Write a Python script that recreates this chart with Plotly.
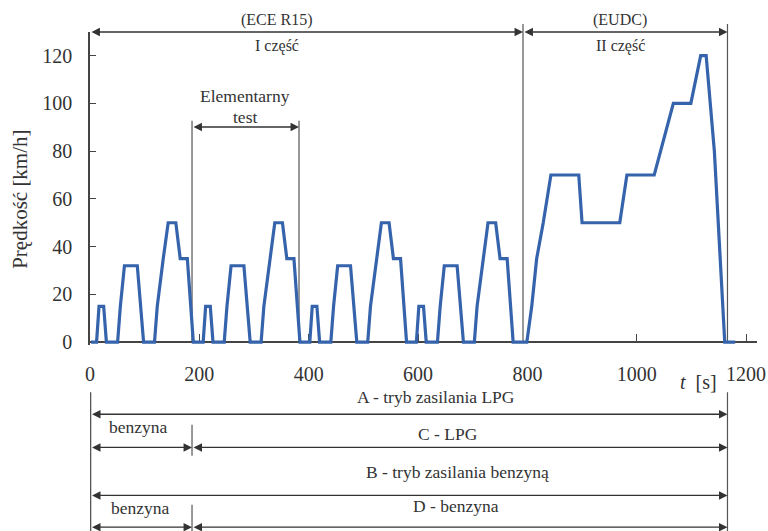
import plotly.graph_objects as go

# ---------------- data ----------------
time_s = [
    2, 12, 16.5, 25, 30, 50.5, 55.5, 63, 86.5, 98, 118, 123, 134, 143, 157, 165, 178, 189,
    207, 211.5, 220, 225, 245.5, 250.5, 258, 281.5, 293, 313, 318, 329, 338, 352, 360, 373, 384,
    402, 406.5, 415, 420, 440.5, 445.5, 453, 476.5, 488, 508, 513, 524, 533, 547, 555, 568, 579,
    597, 601.5, 610, 615, 635.5, 640.5, 648, 671.5, 683, 703, 708, 719, 728, 742, 750, 763, 774,
    799, 808, 817, 829, 843, 894, 900, 969, 982, 1032, 1067, 1099, 1117, 1127, 1142, 1161, 1180,
]
speed_kmh = [
    0, 0, 15, 15, 0, 0, 15, 32, 32, 0, 0, 15, 35, 50, 50, 35, 35, 0,
    0, 15, 15, 0, 0, 15, 32, 32, 0, 0, 15, 35, 50, 50, 35, 35, 0,
    0, 15, 15, 0, 0, 15, 32, 32, 0, 0, 15, 35, 50, 50, 35, 35, 0,
    0, 15, 15, 0, 0, 15, 32, 32, 0, 0, 15, 35, 50, 50, 35, 35, 0,
    0, 15, 35, 50, 70, 70, 50, 50, 70, 70, 100, 100, 120, 120, 80, 0, 0,
]
x_tick_values = [0, 200, 400, 600, 800, 1000, 1200]
y_tick_values = [0, 20, 40, 60, 80, 100, 120]

# boundaries (s) of the test phases as drawn
t_start = 1
t_elem_start = 186.6
t_elem_end = 382.3
t_eudc_start = 792
t_end = 1166

FONT = "Liberation Serif"
TXT = "#333333"
LINE = "#444444"

X_LO, X_HI = 0, 1220
Y_LO, Y_HI = -1.2, 129.9
PX_PER_S = 667 / (X_HI - X_LO)


def yp(v):
    """speed units -> paper fraction (works outside the axis range)"""
    return (v - Y_LO) / (Y_HI - Y_LO)


fig = go.Figure()
fig.add_trace(go.Scatter(
    x=time_s, y=speed_kmh, mode="lines",
    line=dict(color="#3563AC", width=3.2),
    hoverinfo="skip", showlegend=False,
))

fig.update_layout(
    width=768, height=531,
    margin=dict(l=90, r=11, t=32, b=185.8, autoexpand=False),
    paper_bgcolor="white", plot_bgcolor="white",
    font=dict(family=FONT, color=TXT, size=20),
    showlegend=False,
    xaxis=dict(
        range=[X_LO, X_HI], tickvals=x_tick_values, ticktext=[str(v) for v in x_tick_values],
        showgrid=False, zeroline=False, showline=True, linecolor=LINE, linewidth=1.5,
        ticks="inside", ticklen=7, tickwidth=1.3, tickcolor=LINE,
        anchor="free", position=yp(0), automargin=False,
        ticklabelstandoff=14, layer="below traces",
        tickfont=dict(family=FONT, size=20, color=TXT),
    ),
    yaxis=dict(
        range=[Y_LO, Y_HI], tickvals=y_tick_values, ticktext=[str(v) for v in y_tick_values],
        showgrid=False, zeroline=False, showline=True, linecolor=LINE, linewidth=1.5,
        ticks="inside", ticklen=6, tickwidth=1.3, tickcolor=LINE, automargin=False,
        ticklabelstandoff=12, layer="below traces",
        tickfont=dict(family=FONT, size=20, color=TXT),
    ),
)

shapes = []
def vline(x, v0, v1, w=1.2):
    shapes.append(dict(type="line", xref="x", yref="paper", x0=x, x1=x, y0=yp(v0), y1=yp(v1),
                       line=dict(color="#555555", width=w), layer="below"))

vline(t_eudc_start, 0, 133.3)
vline(t_end, 0, 133.3)
vline(t_elem_start, 0, 92.7)
vline(t_elem_end, 0, 92.7)
vline(t_end, -21.0, -79.5)
vline(t_start, -21.0, -79.5, 1.5)
vline(t_elem_start, -34.6, -47.6)
vline(t_elem_start, -68.1, -79.5)
fig.update_layout(shapes=shapes)

anns = []
def darrow(x0, x1, v):
    anns.append(dict(
        x=x1, y=yp(v), xref="x", yref="paper",
        ax=-(x1 - x0) * PX_PER_S, ay=0, axref="pixel", ayref="pixel",
        text="", showarrow=True, arrowside="end+start", arrowhead=2, startarrowhead=2,
        arrowsize=1.3, startarrowsize=1.3, arrowwidth=1.3, arrowcolor="#333333",
        standoff=0, startstandoff=0,
    ))

def label(x, v, text, size=17.5):
    anns.append(dict(x=x, y=yp(v), xref="x", yref="paper", text=text, showarrow=False,
                     font=dict(family=FONT, size=size, color=TXT),
                     xanchor="center", yanchor="middle"))

darrow(0, t_eudc_start, 129.9)
darrow(t_eudc_start, t_end, 129.9)
darrow(t_elem_start, t_elem_end, 90.1)
darrow(t_start, t_end, -30.2)
darrow(t_start, t_elem_start, -44.1)
darrow(t_elem_start, t_end, -44.1)
darrow(t_start, t_end, -64.2)
darrow(t_start, t_elem_start, -77.5)
darrow(t_elem_start, t_end, -77.5)

label(342, 134.8, "(ECE R15)", 16)
label(342, 124.1, "I część", 16)
label(970, 134.8, "(EUDC)", 16)
label(970, 124.1, "II część", 16)
label(283.5, 103.2, "Elementarny", 17.5)
label(283.5, 94.4, "test", 17.5)
label(633, -22.9, "A - tryb zasilania LPG")
label(89.6, -35.5, "benzyna")
label(654, -38.4, "C - LPG")
label(672, -54.2, "B - tryb zasilania benzyną")
label(93, -69.5, "benzyna")
label(669.5, -68.5, "D - benzyna")
label(1113, -16.5, "<i>t</i>  [s]", 20)
anns.append(dict(x=(-128 - X_LO) / (X_HI - X_LO), y=yp(59.6), xref="paper", yref="paper",
                 text="Prędkość [km/h]", showarrow=False,
                 textangle=-90, font=dict(family=FONT, size=21, color=TXT),
                 xanchor="center", yanchor="middle"))
fig.update_layout(annotations=anns)

fig.write_html("out.html", config={"displayModeBar": False},
               post_script="document.body.style.margin='0';")
